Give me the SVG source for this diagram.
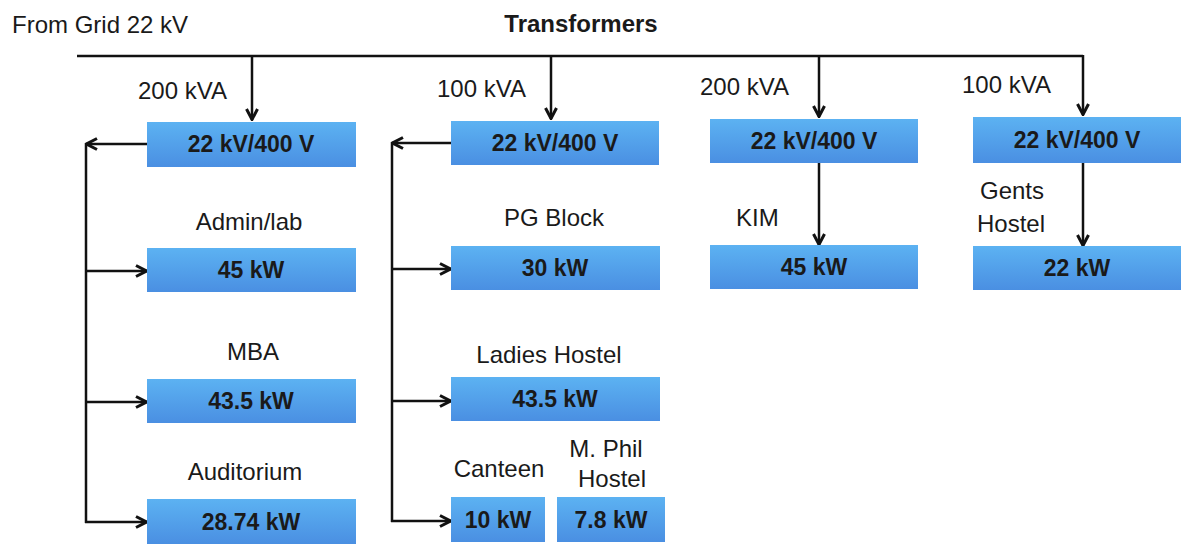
<svg xmlns="http://www.w3.org/2000/svg" width="1181" height="544" viewBox="0 0 1181 544">
  <style>
    .box { fill: url(#blue); }
    .bt { font-family: "Liberation Sans", Arial, sans-serif; font-size: 23px; font-weight: bold; fill: #1a1a1a; text-anchor: middle; }
    .lb { font-family: "Liberation Sans", Arial, sans-serif; font-size: 24px; fill: #1a1a1a; }
    .c { text-anchor: middle; }
    .ln { stroke: #111; stroke-width: 2.5; fill: none; }
    .ar { stroke: #111; stroke-width: 2.5; fill: none; marker-end: url(#arr); }
  </style>
  <defs>
    <linearGradient id="blue" x1="0" y1="0" x2="0" y2="1">
      <stop offset="0" stop-color="#5cb2f2"/>
      <stop offset="1" stop-color="#4a8fe2"/>
    </linearGradient>
    <marker id="arr" viewBox="0 0 14 14" refX="13" refY="7" markerWidth="14" markerHeight="14" markerUnits="userSpaceOnUse" orient="auto">
      <path d="M2,1.5 L12.5,7 L2,12.5" stroke="#111" stroke-width="3" fill="none" stroke-linejoin="miter"/>
    </marker>
  </defs>
  <rect width="1181" height="544" fill="#fff"/>

  <g id="titles">
    <text class="lb" x="12" y="33">From Grid 22 kV</text>
    <text class="lb c" x="581" y="32" font-weight="bold">Transformers</text>
  </g>

  <g id="connectors">
    <polyline class="ln" points="77,56 1083,56"/>
    <line class="ar" x1="252" y1="56" x2="252" y2="120"/>
    <line class="ar" x1="551" y1="56" x2="551" y2="119"/>
    <line class="ar" x1="819" y1="56" x2="819" y2="117"/>
    <line class="ar" x1="1083" y1="55" x2="1083" y2="115"/>
    <!-- group 1 -->
    <line class="ar" x1="147" y1="144" x2="86" y2="144"/>
    <line class="ln" x1="86" y1="143" x2="86" y2="523"/>
    <line class="ar" x1="85" y1="271" x2="147" y2="271"/>
    <line class="ar" x1="85" y1="402" x2="147" y2="402"/>
    <line class="ar" x1="85" y1="522" x2="147" y2="522"/>
    <!-- group 2 -->
    <line class="ar" x1="451" y1="143" x2="392" y2="143"/>
    <line class="ln" x1="392" y1="142" x2="392" y2="522"/>
    <line class="ar" x1="391" y1="269" x2="451" y2="269"/>
    <line class="ar" x1="391" y1="401" x2="451" y2="401"/>
    <line class="ar" x1="391" y1="521" x2="451" y2="521"/>
    <!-- KIM / Gents -->
    <line class="ar" x1="819" y1="163" x2="819" y2="245"/>
    <line class="ar" x1="1083" y1="163" x2="1083" y2="246"/>
  </g>

  <g id="t1">
    <text class="lb" x="138" y="99">200 kVA</text>
    <rect class="box" x="147" y="122" width="209" height="45"/>
    <text class="bt" x="251" y="152">22 kV/400 V</text>
  </g>
  <g id="t2">
    <text class="lb" x="437" y="97">100 kVA</text>
    <rect class="box" x="451" y="121" width="208" height="44"/>
    <text class="bt" x="555" y="151">22 kV/400 V</text>
  </g>
  <g id="t3">
    <text class="lb" x="700" y="95">200 kVA</text>
    <rect class="box" x="710" y="119" width="208" height="44"/>
    <text class="bt" x="814" y="149">22 kV/400 V</text>
  </g>
  <g id="t4">
    <text class="lb" x="962" y="93">100 kVA</text>
    <rect class="box" x="973" y="117" width="208" height="46"/>
    <text class="bt" x="1077" y="148">22 kV/400 V</text>
  </g>

  <g id="admin">
    <text class="lb c" x="249" y="230">Admin/lab</text>
    <rect class="box" x="147" y="248" width="209" height="44"/>
    <text class="bt" x="251" y="278">45 kW</text>
  </g>
  <g id="mba">
    <text class="lb c" x="253" y="360">MBA</text>
    <rect class="box" x="147" y="379" width="209" height="44"/>
    <text class="bt" x="251" y="409">43.5 kW</text>
  </g>
  <g id="auditorium">
    <text class="lb c" x="245" y="480">Auditorium</text>
    <rect class="box" x="147" y="499" width="209" height="45"/>
    <text class="bt" x="251" y="530">28.74 kW</text>
  </g>

  <g id="pgblock">
    <text class="lb c" x="554" y="226">PG Block</text>
    <rect class="box" x="451" y="246" width="209" height="44"/>
    <text class="bt" x="555" y="276">30 kW</text>
  </g>
  <g id="ladies">
    <text class="lb c" x="549" y="363">Ladies Hostel</text>
    <rect class="box" x="451" y="377" width="209" height="44"/>
    <text class="bt" x="555" y="407">43.5 kW</text>
  </g>
  <g id="canteen">
    <text class="lb c" x="499" y="477">Canteen</text>
    <rect class="box" x="451" y="497" width="94" height="45"/>
    <text class="bt" x="498" y="528">10 kW</text>
  </g>
  <g id="mphil">
    <text class="lb c" x="606" y="457">M. Phil</text>
    <text class="lb c" x="612" y="487">Hostel</text>
    <rect class="box" x="557" y="497" width="108" height="45"/>
    <text class="bt" x="611" y="528">7.8 kW</text>
  </g>

  <g id="kim">
    <text class="lb" x="736" y="226">KIM</text>
    <rect class="box" x="710" y="245" width="208" height="44"/>
    <text class="bt" x="814" y="275">45 kW</text>
  </g>
  <g id="gents">
    <text class="lb" x="980" y="199">Gents</text>
    <text class="lb" x="977" y="232">Hostel</text>
    <rect class="box" x="973" y="246" width="208" height="44"/>
    <text class="bt" x="1077" y="276">22 kW</text>
  </g>
</svg>
